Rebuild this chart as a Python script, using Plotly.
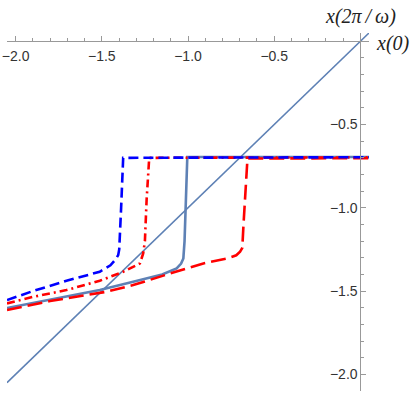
import plotly.graph_objects as go

# diagonal x(2pi/w) = x(0)
diag_x = [-2.05, 0.05]
diag_y = [-2.05, 0.05]

# blue, short dashes
blue_x = [-2.05, -1.9, -1.705, -1.6, -1.512, -1.45, -1.42, -1.405, -1.399, -1.388, -1.376, -1.2, -0.8, -0.4, 0.05]
blue_y = [-1.554, -1.50, -1.438, -1.41, -1.384, -1.345, -1.31, -1.284, -1.25, -1.0, -0.700, -0.699, -0.698, -0.697, -0.696]

# red, dot-dashed
rdd_x = [-2.05, -1.9, -1.705, -1.512, -1.376, -1.31, -1.279, -1.26, -1.25, -1.24, -1.225, -1.0, -0.5, 0.05]
rdd_y = [-1.574, -1.535, -1.494, -1.438, -1.384, -1.35, -1.334, -1.274, -1.2, -0.95, -0.700, -0.699, -0.698, -0.697]

# steel blue, solid
sb_x = [-2.05, -1.8, -1.512, -1.318, -1.15, -1.066, -1.04, -1.027, -1.02, -1.004, -0.8, -0.4, 0.05]
sb_y = [-1.602, -1.55, -1.494, -1.444, -1.40, -1.364, -1.335, -1.304, -1.2, -0.695, -0.695, -0.695, -0.695]

# red, long dashes
rld_x = [-2.05, -1.8, -1.473, -1.318, -1.047, -0.911, -0.775, -0.72, -0.698, -0.685, -0.678, -0.667, -0.655, -0.4, 0.05]
rld_y = [-1.614, -1.56, -1.504, -1.464, -1.376, -1.334, -1.304, -1.285, -1.264, -1.24, -1.1, -0.9, -0.704, -0.703, -0.702]

major_ticks = [-2.0, -1.5, -1.0, -0.5]

steel = "rgb(94,129,181)"

fig = go.Figure()
fig.add_trace(go.Scatter(x=diag_x, y=diag_y, mode="lines",
                         line=dict(color=steel, width=1.6)))
fig.add_trace(go.Scatter(x=sb_x, y=sb_y, mode="lines",
                         line=dict(color=steel, width=2.6)))
fig.add_trace(go.Scatter(x=rld_x, y=rld_y, mode="lines",
                         line=dict(color="red", width=2.6, dash="15px,6px")))
fig.add_trace(go.Scatter(x=rdd_x, y=rdd_y, mode="lines",
                         line=dict(color="red", width=2.6, dash="8px,4px,2px,4px")))
fig.add_trace(go.Scatter(x=blue_x, y=blue_y, mode="lines",
                         line=dict(color="blue", width=2.6, dash="10px,5px")))

axis_common = dict(
    showgrid=False, zeroline=False, showline=True,
    linecolor="#999999", linewidth=1,
    ticks="inside", ticklen=5, tickcolor="#999999",
    tickvals=major_ticks, tickformat=".1f",
    tickfont=dict(family="Liberation Sans, Arial", size=14, color="#333333"),
    minor=dict(dtick=0.1, ticks="inside", ticklen=3, tickcolor="#999999"),
    anchor="free", automargin=False, ticklabeloverflow="allow",
)

fig.update_layout(
    width=415, height=393,
    margin=dict(l=7, r=46, t=33, b=2),
    plot_bgcolor="white", paper_bgcolor="white",
    showlegend=False,
    xaxis=dict(range=[-2.05, 0.05], side="bottom", ticklabelstandoff=2,
               position=2.1 / 2.15, **axis_common),
    yaxis=dict(range=[-2.1, 0.05], side="left",
               position=2.05 / 2.1, **axis_common),
)

label_font = dict(family="Liberation Serif, Times New Roman", size=20, color="#222")
fig.add_annotation(text="<i>x(0)</i>", xref="paper", yref="paper",
                   x=1.015, y=0.971, xanchor="left", yanchor="middle",
                   showarrow=False, font=label_font)
fig.add_annotation(text="<i>x(2π\u2009/\u2009ω)</i>", xref="paper", yref="paper",
                   x=0.9765, y=1.0455, xanchor="center", yanchor="middle",
                   showarrow=False, font=label_font)

# drop the browser's default 8px body margin so the figure sits at the corner
fig.write_html("out.html", config={"displayModeBar": False},
               post_script="document.body.style.margin='0px';")
